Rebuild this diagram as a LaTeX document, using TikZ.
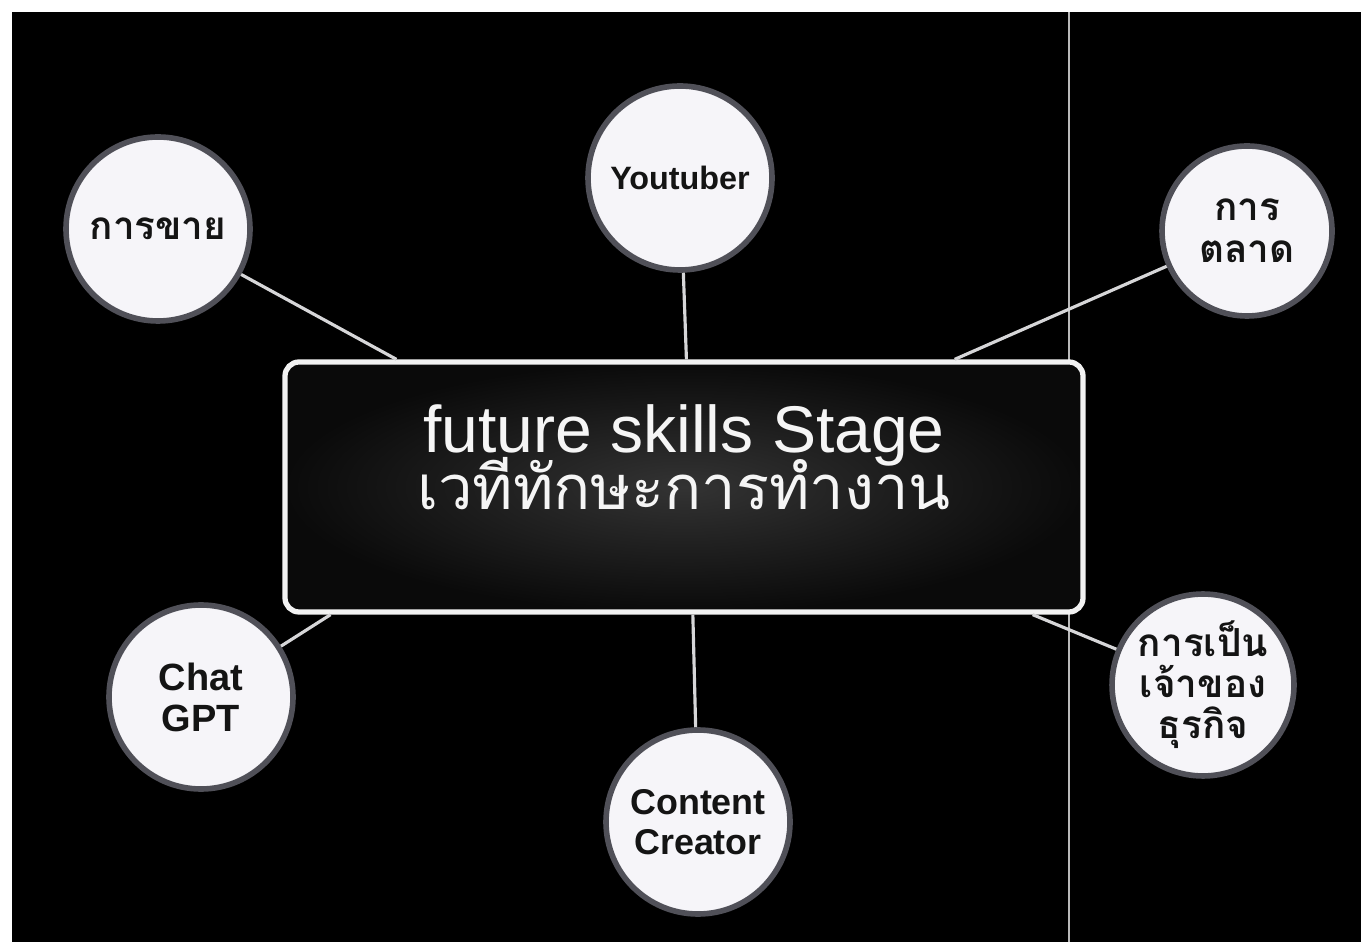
\documentclass[tikz,border=0pt]{standalone}
\usepackage{fontspec}
\setmainfont{Liberation Sans}
\newfontfamily\thaifont[Script=Thai]{Loma}
\usetikzlibrary{calc,positioning}
\definecolor{paper}{RGB}{246,245,249}
\definecolor{rim}{RGB}{80,80,88}
\definecolor{wire}{RGB}{214,214,216}
\tikzset{
skill/.style={circle,fill=paper,draw=rim,line width=1.6pt,minimum size=1.84cm,inner sep=0pt,align=center,text=black!92},
link/.style={draw=wire,line width=0.9pt},
}

\begin{document}
\begin{tikzpicture}
\useasboundingbox (0,0) rectangle (13.69,9.47);
\fill[white] (0,0) rectangle (13.69,9.47);
\fill[black] (0.12,0.05) rectangle (13.61,9.35);
\draw[gray!55,line width=0.4pt] (10.69,0.05)--(10.69,9.35);
%centre box
\node[draw=white!90!gray,line width=1.5pt,rounded corners=4pt,minimum width=7.98cm,minimum height=2.50cm,inner color=black!80,outer color=black!96](stage) at (6.84,4.60){};
\node[text=white!92!gray,align=center,font=\fontsize{18.8}{17.5}\selectfont](title) at (6.84,4.90){future skills Stage\\[-3.4pt]{\thaifont\fontsize{17.5}{17.5}\selectfont เวทีทักษะการทำงาน}};
%circles
\node[skill,font=\thaifont\bfseries\fontsize{11}{12}\selectfont](sale) at (1.58,7.18){การขาย};
\node[skill,font=\bfseries\fontsize{9.2}{11}\selectfont](youtuber) at (6.80,7.69){Youtuber};
\node[skill,minimum size=1.70cm,font=\thaifont\bfseries\fontsize{11}{12}\selectfont](market) at (12.47,7.16){การ\\ตลาด};
\node[skill,font=\bfseries\fontsize{10.8}{11.7}\selectfont](chatgpt) at (2.01,2.50){Chat\\GPT};
\node[skill,font=\bfseries\fontsize{10.2}{11.4}\selectfont](content) at (6.98,1.25){Content\\Creator};
\node[skill,minimum size=1.70cm,font=\thaifont\bfseries\fontsize{11}{11.7}\selectfont](owner) at (12.03,2.62){การเป็น\\เจ้าของ\\ธุรกิจ};
%connectors
\coordinate(ts) at ($(stage.north west)!0.142!(stage.north east)$);
\coordinate(ty) at ($(stage.north west)!0.503!(stage.north east)$);
\coordinate(tm) at ($(stage.north west)!0.837!(stage.north east)$);
\coordinate(bc) at ($(stage.south west)!0.06!(stage.south east)$);
\coordinate(bm) at ($(stage.south west)!0.511!(stage.south east)$);
\coordinate(bo) at ($(stage.south west)!0.934!(stage.south east)$);
\draw[link](sale)--(ts);
\draw[link](youtuber)--(ty);
\draw[link](market)--(tm);
\draw[link](chatgpt)--(bc);
\draw[link](content)--(bm);
\draw[link](owner)--(bo);
\end{tikzpicture}
\end{document}
